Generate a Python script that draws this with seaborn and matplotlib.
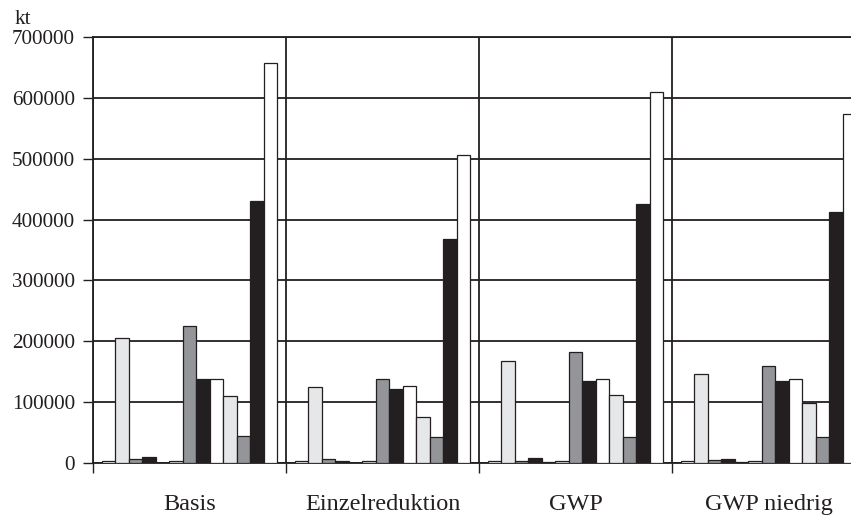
import matplotlib
matplotlib.use("Agg")
import matplotlib.pyplot as plt
import seaborn as sns
import pandas as pd
from matplotlib.ticker import FixedLocator, FuncFormatter

# Emissions per scenario (kt), 13 series per scenario
scenarios = ["Basis", "Einzelreduktion", "GWP", "GWP niedrig"]
series = [f"Reihe {i}" for i in range(1, 14)]

basis = [3000, 206000, 6000, 9500, 0, 3000, 225000, 138000, 137500, 110000, 44000, 430000, 658000]
einzelreduktion = [3000, 125000, 6000, 3500, 0, 3000, 137500, 122000, 127000, 75000, 42000, 368000, 506000]
gwp = [3000, 168000, 2500, 7500, 1500, 3000, 183000, 135000, 137500, 111000, 43000, 426000, 610000]
gwp_niedrig = [3000, 147000, 5000, 7000, 1000, 3000, 160000, 135000, 138000, 98000, 42000, 413000, 574000]

y_ticks = [0, 100000, 200000, 300000, 400000, 500000, 600000, 700000]

ink = "#231f20"
fill_cycle = ["#ffffff", "#e6e7e8", "#939598", ink]
palette = [fill_cycle[i % 4] for i in range(len(series))]

rows = []
for name, vals in zip(scenarios, [basis, einzelreduktion, gwp, gwp_niedrig]):
    for s, v in zip(series, vals):
        rows.append({"Szenario": name, "Reihe": s, "kt": v})
df = pd.DataFrame(rows)

sns.set_style("white")
plt.rcParams["font.family"] = ["Liberation Serif", "DejaVu Serif"]
plt.rcParams["text.color"] = ink

W, H = 851, 518
fig = plt.figure(figsize=(W / 100, H / 100), dpi=100)
ax = fig.add_axes([93 / W, 55 / H, 772 / W, 426 / H])

sns.barplot(data=df, x="Szenario", y="kt", hue="Reihe", palette=palette,
            saturation=1, width=0.91, edgecolor=ink, linewidth=0.9,
            legend=False, ax=ax, zorder=3)

ax.set_xlim(-0.5, len(scenarios) - 0.5)
ax.set_ylim(0, 700000)
ax.set_xlabel("")
ax.set_ylabel("")

# y axis
ax.yaxis.set_major_locator(FixedLocator(y_ticks))
ax.yaxis.set_major_formatter(FuncFormatter(lambda v, p: f"{int(v)}"))
ax.tick_params(axis="y", which="major", length=7, width=1.0, color=ink,
               direction="out", pad=6, labelsize=15.2, labelcolor=ink, left=True)
ax.yaxis.grid(True, color=ink, linewidth=1.3)

# x axis: group dividers and labels
ax.set_xticks(range(len(scenarios)))
ax.set_xticklabels(scenarios)
ax.xaxis.set_minor_locator(FixedLocator([-0.5, 0.5, 1.5, 2.5]))
ax.tick_params(axis="x", which="major", length=0, pad=22, labelsize=17.5, labelcolor=ink)
ax.tick_params(axis="x", which="minor", length=7, width=1.0, color=ink, direction="out", bottom=True)
ax.xaxis.grid(True, which="minor", color=ink, linewidth=1.3)
ax.xaxis.grid(False, which="major")
ax.set_axisbelow(True)

for side in ["left", "bottom", "top"]:
    ax.spines[side].set_visible(True)
    ax.spines[side].set_color(ink)
    ax.spines[side].set_linewidth(1.3)
ax.spines["right"].set_visible(False)

fig.text(15 / W, 1 - 20 / H, "kt", fontsize=15.2, color=ink, va="center", ha="left")

fig.savefig("out.png", dpi=100)
